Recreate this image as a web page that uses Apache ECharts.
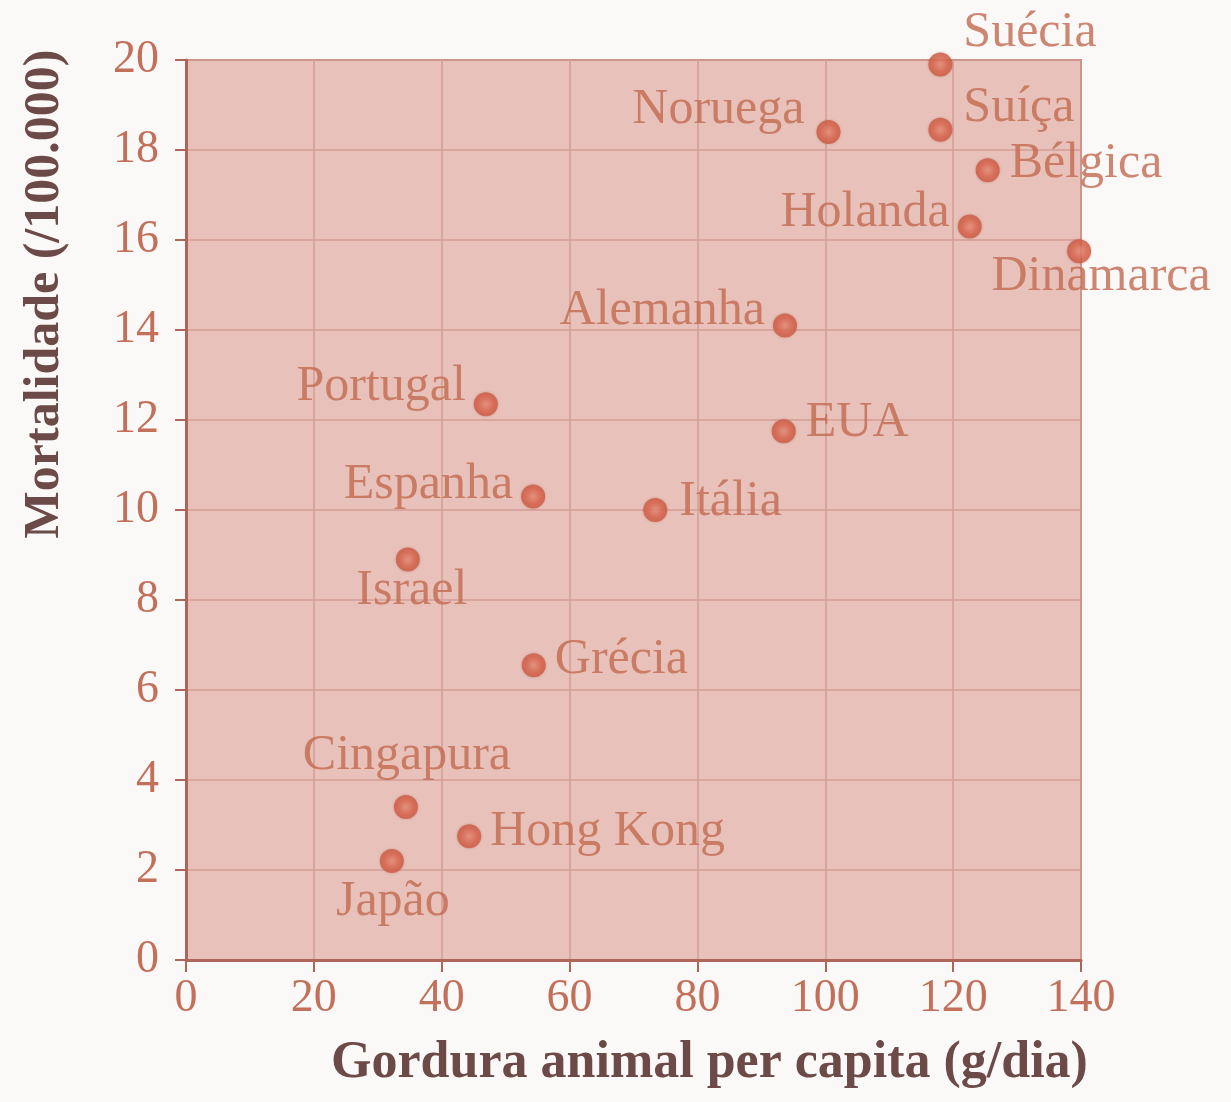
<!DOCTYPE html>
<html><head><meta charset="utf-8">
<script src="https://cdn.jsdelivr.net/npm/echarts@6/dist/echarts.min.js"></script>
<style>html,body{margin:0;padding:0;background:#fbf9f8;}#c{width:1231px;height:1102px;}</style>
</head><body><div id="c"></div>
<script>
const countries = ['Suécia','Noruega','Suíça','Bélgica','Holanda','Dinamarca','Alemanha','Portugal','EUA','Espanha','Itália','Israel','Grécia','Cingapura','Hong Kong','Japão'];
const fat = [118, 100.5, 118, 125.4, 122.6, 139.7, 93.7, 46.9, 93.5, 54.3, 73.4, 34.7, 54.4, 34.4, 44.3, 32.2];
const mortality = [19.9, 18.4, 18.45, 17.55, 16.3, 15.75, 14.1, 12.35, 11.75, 10.3, 10.0, 8.9, 6.55, 3.4, 2.75, 2.2];
const xTicks = [0,20,40,60,80,100,120,140];
const yTicks = [0,2,4,6,8,10,12,14,16,18,20];

// label placement (style only)
const placement = {
  'Suécia':   {position:'right', distance:11, offset:[0,-32]},
  'Noruega':  {position:'left', distance:12, offset:[0,-22]},
  'Suíça':    {position:'right', distance:11, offset:[0,-22]},
  'Bélgica':  {position:'right', distance:10, offset:[0,-6]},
  'Holanda':  {position:'left', distance:8, offset:[0,-14]},
  'Dinamarca':{position:'bottom', distance:-1, offset:[22,-10]},
  'Alemanha': {position:'left', distance:8, offset:[0,-15]},
  'Portugal': {position:'left', distance:8, offset:[0,-17]},
  'EUA':      {position:'right', distance:10, offset:[0,-8]},
  'Espanha':  {position:'left', distance:8, offset:[0,-12]},
  'Itália':   {position:'right', distance:12, offset:[0,-8]},
  'Israel':   {position:'bottom', distance:-1, offset:[4,-5]},
  'Grécia':   {position:'right', distance:9, offset:[0,-5]},
  'Cingapura':{position:'top', distance:14, offset:[1,0]},
  'Hong Kong':{position:'right', distance:9, offset:[0,-4]},
  'Japão':    {position:'bottom', distance:4, offset:[1,0]}
};

const data = countries.map((n,i)=>({name:n, value:[fat[i], mortality[i]], label: placement[n]}));

const serif = '"Liberation Serif", "DejaVu Serif", serif';
const tickColor = '#c2705a';
const axisColor = '#b0655b';

const chart = echarts.init(document.getElementById('c'));
chart.setOption({
  backgroundColor:'#fbf9f8',
  grid:{left:186, right:150, top:60, bottom:142, show:true, backgroundColor:'#e8c2ba', borderColor:'#c07e75', borderWidth:2},
  xAxis:{
    type:'value', min:0, max:140, interval:20,
    name:'Gordura animal per capita (g/dia)', nameLocation:'middle', nameGap:78,
    nameTextStyle:{fontFamily:serif, fontSize:52, fontWeight:'bold', color:'#6c4a47', padding:[0,0,0,152]},
    axisLine:{show:true, lineStyle:{color:axisColor, width:3}},
    axisTick:{show:true, length:12, lineStyle:{color:axisColor, width:2}},
    axisLabel:{fontFamily:serif, fontSize:46, color:tickColor, margin:16,
      formatter:v=> xTicks.includes(v) ? String(v) : ''},
    splitLine:{show:true, lineStyle:{color:'#d49d94', width:1.5}}
  },
  yAxis:{
    type:'value', min:0, max:20, interval:2,
    name:'Mortalidade (/100.000)', nameLocation:'middle', nameGap:116,
    nameTextStyle:{fontFamily:serif, fontSize:50, fontWeight:'bold', color:'#6c4a47', padding:[0,0,0,432]},
    axisLine:{show:true, lineStyle:{color:axisColor, width:3}},
    axisTick:{show:true, length:11, lineStyle:{color:axisColor, width:2}},
    axisLabel:{fontFamily:serif, fontSize:46, color:tickColor, margin:27,
      formatter:v=> yTicks.includes(v) ? String(v) : ''},
    splitLine:{show:true, lineStyle:{color:'#d49d94', width:1.5}}
  },
  series:[{
    type:'scatter', symbol:'circle', symbolSize:24,
    data:data,
    clip:false,
    itemStyle:{
      color:{type:'radial', x:0.5, y:0.5, r:0.5, colorStops:[{offset:0,color:'#e9907b'},{offset:0.6,color:'#db664d'},{offset:1,color:'#cd5841'}]},
      shadowColor:'rgba(120,40,30,0.35)', shadowBlur:3
    },
    label:{show:true, formatter:'{b}', fontFamily:serif, fontSize:50, color:'#c2694f'},
    emphasis:{disabled:true}
  }],
  animation:false
});
</script></body></html>
